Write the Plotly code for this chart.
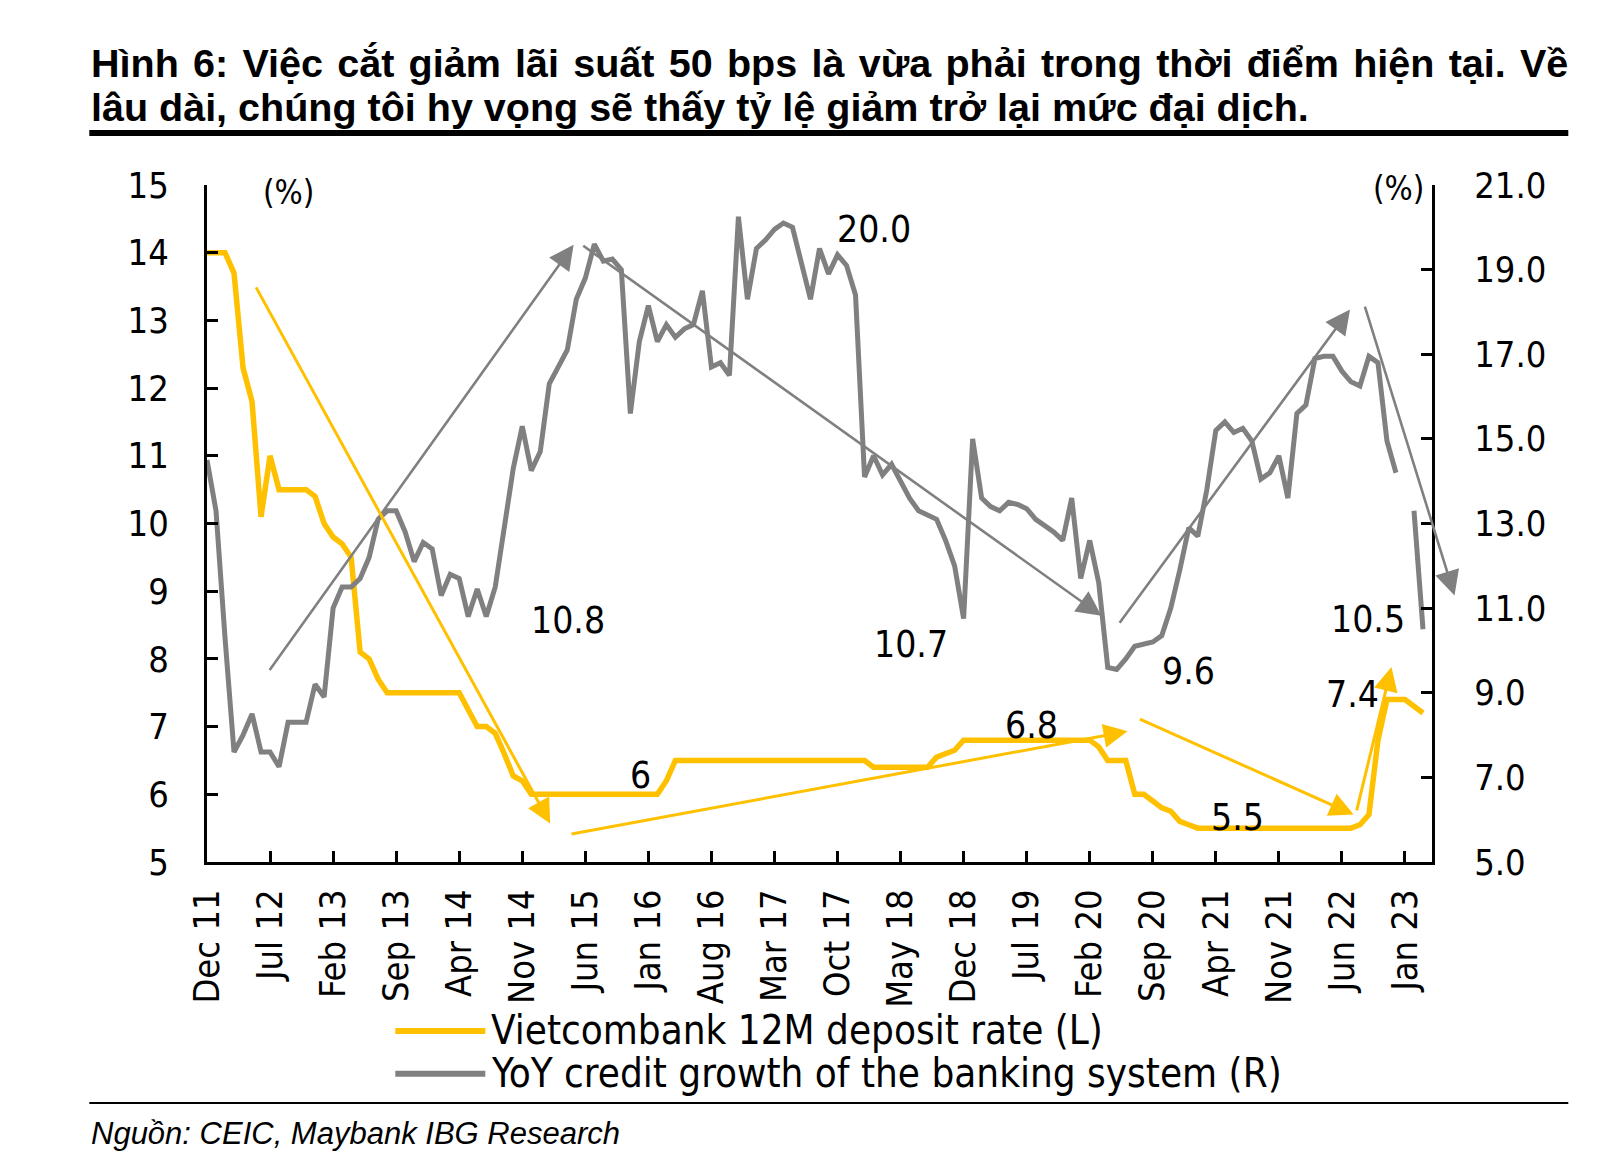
import pandas as pd
import plotly.graph_objects as go

# ---------------- data ----------------
months = pd.date_range("2011-12-01", periods=136, freq="MS").strftime("%b %y").tolist()
month_idx = list(range(len(months)))

deposit_rate = [
    14.0, 14.0, 14.0, 13.7, 12.3, 11.8, 10.1, 11.0, 10.5, 10.5,
    10.5, 10.5, 10.4, 10.0, 9.8, 9.7, 9.5, 8.1, 8.0, 7.7,
    7.5, 7.5, 7.5, 7.5, 7.5, 7.5, 7.5, 7.5, 7.5, 7.25,
    7.0, 7.0, 6.9, 6.6, 6.27, 6.2, 6.0, 6.0, 6.0, 6.0,
    6.0, 6.0, 6.0, 6.0, 6.0, 6.0, 6.0, 6.0, 6.0, 6.0,
    6.0, 6.2, 6.5, 6.5, 6.5, 6.5, 6.5, 6.5, 6.5, 6.5,
    6.5, 6.5, 6.5, 6.5, 6.5, 6.5, 6.5, 6.5, 6.5, 6.5,
    6.5, 6.5, 6.5, 6.5, 6.4, 6.4, 6.4, 6.4, 6.4, 6.4,
    6.4, 6.55, 6.6, 6.65, 6.8, 6.8, 6.8, 6.8, 6.8, 6.8,
    6.8, 6.8, 6.8, 6.8, 6.8, 6.8, 6.8, 6.8, 6.8, 6.7,
    6.5, 6.5, 6.5, 6.0, 6.0, 5.9, 5.8, 5.75, 5.6, 5.55,
    5.5, 5.5, 5.5, 5.5, 5.5, 5.5, 5.5, 5.5, 5.5, 5.5,
    5.5, 5.5, 5.5, 5.5, 5.5, 5.5, 5.5, 5.5, 5.55, 5.7,
    6.8, 7.4, 7.4, 7.4, 7.3, 7.2,
]

credit_growth = [
    14.5, 13.3, 10.3, 7.6, 8.0, 8.5, 7.6, 7.6, 7.25, 8.3,
    8.3, 8.3, 9.2, 8.9, 11.0, 11.5, 11.5, 11.7, 12.2, 13.1,
    13.3, 13.3, 12.8, 12.1, 12.55, 12.4, 11.3, 11.8, 11.7, 10.8,
    11.45, 10.8, 11.5, 13.0, 14.3, 15.3, 14.25, 14.7, 16.3, 16.7,
    17.1, 18.3, 18.8, 19.6, 19.2, 19.25, 19.0, 15.6, 17.3, 18.15,
    17.3, 17.7, 17.4, 17.6, 17.7, 18.5, 16.7, 16.8, 16.5, 20.25,
    18.3, 19.5, 19.7, 19.95, 20.1, 20.0, 19.1, 18.3, 19.5, 18.9,
    19.35, 19.1, 18.4, 14.1, 14.6, 14.15, 14.4, 14.0, 13.6, 13.3,
    13.2, 13.1, 12.6, 12.0, 10.75, 15.0, 13.6, 13.4, 13.3, 13.5,
    13.45, 13.35, 13.1, 12.95, 12.8, 12.6, 13.6, 11.7, 12.6, 11.6,
    9.6, 9.55, 9.8, 10.1, 10.15, 10.2, 10.35, 11.0, 11.9, 12.9,
    12.7, 13.8, 15.2, 15.4, 15.15, 15.25, 14.95, 14.05, 14.2, 14.6,
    13.6, 15.6, 15.8, 16.9, 16.95, 16.95, 16.6, 16.35, 16.25, 16.95,
    16.8, 14.95, 14.2, None, 13.3, 10.5,
]

tick_positions = month_idx[::7]
tick_labels = months[::7]
left_ticks = [5, 6, 7, 8, 9, 10, 11, 12, 13, 14, 15]
right_ticks = [5, 7, 9, 11, 13, 15, 17, 19, 21]

# value labels: (text, month position, left-axis level)
value_labels = [
    ("20.0", 74.0, 14.35), ("10.8", 40.1, 8.57), ("10.7", 78.2, 8.22),
    ("9.6", 109.0, 7.82), ("10.5", 128.9, 8.58), ("7.4", 127.2, 7.47),
    ("6.8", 91.5, 7.01), ("6", 48.1, 6.28), ("5.5", 114.4, 5.66),
]
# trend arrows: (tail month, tail value, head month, head value)
gray_arrows = [  # right axis values
    (6.84, 9.50, 40.7, 19.59),
    (41.6, 19.59, 99.3, 10.82),
    (101.2, 10.62, 126.9, 18.06),
    (128.5, 18.16, 138.5, 11.3),
]
yellow_arrows = [  # left axis values
    (5.36, 13.51, 38.1, 5.57),
    (40.3, 5.41, 102.2, 6.93),
    (103.4, 7.12, 127.3, 5.70),
    (127.6, 5.74, 131.5, 7.88),
]

title_line1 = "Hình 6: Việc cắt giảm lãi suất 50 bps là vừa phải trong thời điểm hiện tại. Về"
title_line2 = "lâu dài, chúng tôi hy vọng sẽ thấy tỷ lệ giảm trở lại mức đại dịch."
source_text = "Nguồn: CEIC, Maybank IBG Research"
legend_names = ["Vietcombank 12M deposit rate (L)", "YoY credit growth of the banking system (R)"]

# ---------------- styling / layout ----------------
YELLOW = "#FFC000"
GRAY = "#808080"
OFF = 8                   # page body margin
W, H = 1616 - 2 * OFF, 1174 - 2 * OFF
X0, X1 = 206.7, 1431.7   # plot area left/right (px in page)
YT, YB = 185.0, 861.7    # plot area top/bottom (px in page)
CHART_FONT = "DejaVu Sans Condensed, DejaVu Sans, sans-serif"
TITLE_FONT = "Liberation Sans, Arial, sans-serif"


def pxx(x):
    return (x - X0) / (X1 - X0)


def pxy(y):
    return (YB - y) / (YB - YT)


fig = go.Figure()
fig.add_trace(go.Scatter(x=month_idx, y=deposit_rate, mode="lines", name=legend_names[0],
                         line=dict(color=YELLOW, width=5.5), yaxis="y", showlegend=False))
fig.add_trace(go.Scatter(x=month_idx, y=credit_growth, mode="lines", name=legend_names[1],
                         line=dict(color=GRAY, width=5), yaxis="y2", showlegend=False,
                         connectgaps=False))

annotations = []
for (tx, ty, hx, hy) in gray_arrows:
    annotations.append(dict(x=hx, y=hy, ax=tx, ay=ty, xref="x", yref="y2", axref="x", ayref="y2",
                            text="", showarrow=True, arrowhead=2, arrowsize=1.9, arrowwidth=2.6,
                            arrowcolor=GRAY, standoff=0, startstandoff=0))
for (tx, ty, hx, hy) in yellow_arrows:
    annotations.append(dict(x=hx, y=hy, ax=tx, ay=ty, xref="x", yref="y", axref="x", ayref="y",
                            text="", showarrow=True, arrowhead=2, arrowsize=1.6, arrowwidth=3,
                            arrowcolor=YELLOW, standoff=0, startstandoff=0))
for (t, mx, vy) in value_labels:
    annotations.append(dict(x=mx, y=vy, xref="x", yref="y", text=t, showarrow=False,
                            xanchor="center", yanchor="middle",
                            font=dict(family=CHART_FONT, size=37, color="black")))
annotations.append(dict(x=9.1, y=14.89, xref="x", yref="y", text="(%)", showarrow=False,
                        xanchor="center", yanchor="middle",
                        font=dict(family=CHART_FONT, size=33, color="black")))
annotations.append(dict(x=132.3, y=14.95, xref="x", yref="y", text="(%)", showarrow=False,
                        xanchor="center", yanchor="middle",
                        font=dict(family=CHART_FONT, size=33, color="black")))

# title (first line slightly justified to the full width, as in the reference)
line1_justified = title_line1.replace(" ", "\u200a ")
annotations.append(dict(x=pxx(89), y=pxy(63), xref="paper", yref="paper", text="<b>" + line1_justified + "</b>",
                        showarrow=False, xanchor="left", yanchor="middle",
                        font=dict(family=TITLE_FONT, size=39.5, color="black")))
annotations.append(dict(x=pxx(89), y=pxy(107), xref="paper", yref="paper", text="<b>" + title_line2 + "</b>",
                        showarrow=False, xanchor="left", yanchor="middle",
                        font=dict(family=TITLE_FONT, size=39.5, color="black")))
# source
annotations.append(dict(x=pxx(89), y=pxy(1133), xref="paper", yref="paper", text="<i>" + source_text + "</i>",
                        showarrow=False, xanchor="left", yanchor="middle",
                        font=dict(family=TITLE_FONT, size=31, color="black")))
# legend text
for name, yy in zip(legend_names, [1030, 1073]):
    annotations.append(dict(x=pxx(489), y=pxy(yy), xref="paper", yref="paper", text=name,
                            showarrow=False, xanchor="left", yanchor="middle",
                            font=dict(family=CHART_FONT, size=40, color="black")))

shapes = [
    dict(type="line", xref="paper", yref="paper", x0=pxx(89), x1=pxx(1568), y0=pxy(133), y1=pxy(133),
         line=dict(color="black", width=6)),
    dict(type="line", xref="paper", yref="paper", x0=pxx(89), x1=pxx(1568), y0=pxy(1102.5), y1=pxy(1102.5),
         line=dict(color="black", width=2)),
    dict(type="line", xref="paper", yref="paper", x0=pxx(395), x1=pxx(485), y0=pxy(1030.7), y1=pxy(1030.7),
         line=dict(color=YELLOW, width=6)),
    dict(type="line", xref="paper", yref="paper", x0=pxx(395), x1=pxx(485), y0=pxy(1073.3), y1=pxy(1073.3),
         line=dict(color=GRAY, width=6)),
]

axis_common = dict(showgrid=False, zeroline=False, showline=True, linecolor="black", linewidth=3,
                   ticks="inside", ticklen=11, tickwidth=3, tickcolor="black",
                   tickfont=dict(family=CHART_FONT, size=36, color="black"))

fig.update_layout(
    width=W, height=H,
    margin=dict(l=X0 - OFF, r=(W + OFF) - X1, t=YT - OFF, b=(H + OFF) - YB, pad=0, autoexpand=False),
    paper_bgcolor="white", plot_bgcolor="white",
    showlegend=False,
    xaxis=dict(range=[0, 136], tickmode="array", tickvals=tick_positions, ticktext=tick_labels,
               tickangle=-90, ticklabelstandoff=10, **axis_common),
    yaxis=dict(range=[5, 15], tickmode="array", tickvals=left_ticks, ticklabelstandoff=28, **axis_common),
    yaxis2=dict(range=[5, 21], tickmode="array", tickvals=right_ticks, tickformat=".1f",
                overlaying="y", side="right", ticklabelstandoff=32, **axis_common),
    annotations=annotations,
    shapes=shapes,
)

fig.write_html("out.html")
